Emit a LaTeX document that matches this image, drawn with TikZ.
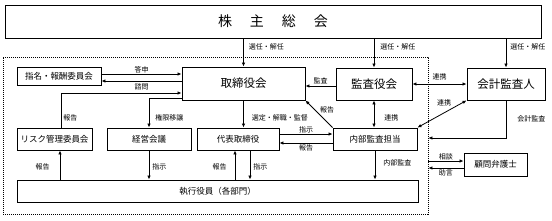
\documentclass[tikz,border=0pt]{standalone}
\usepackage{fontspec}
\setmainfont{Noto Sans CJK JP}
\usetikzlibrary{arrows.meta,positioning,calc}

\begin{document}
\begin{tikzpicture}[
    x=1pt, y=-1pt,
    >={Latex[length=4pt,width=3.5pt]},
    every node/.style={inner sep=0pt},
    bigbox/.style={rectangle, draw, line width=0.9pt, align=center, font=\fontsize{11.5}{13}\selectfont},
    midbox/.style={rectangle, draw, line width=0.9pt, align=center, font=\fontsize{8.5}{10}\selectfont},
    grpbox/.style={rectangle, draw, line width=0.8pt, dash pattern=on 1.2pt off 0.8pt},
    lbl/.style={font=\fontsize{7}{8}\selectfont},
    conn/.style={line width=0.8pt}
]
    \useasboundingbox (0,0) rectangle (552,220);

    \node (grp) [grpbox, minimum width=425pt, minimum height=157pt] at (215.5,135.5) {};
    \node (sh) [bigbox, minimum width=536pt, minimum height=33pt, font=\fontsize{14}{16}\selectfont] at (273,21.5) {株\hspace{18pt}主\hspace{18pt}総\hspace{18pt}会};
    \node (nom) [midbox, minimum width=84pt, minimum height=18pt] at (59,76) {指名・報酬委員会};
    \node (board) [bigbox, minimum width=123pt, minimum height=33pt] at (243.5,83.5) {取締役会};
    \node (audit) [bigbox, minimum width=76pt, minimum height=32pt] at (374,84) {監査役会};
    \node (acct) [bigbox, minimum width=78pt, minimum height=32pt] at (506,84) {会計監査人};
    \node (risk) [midbox, minimum width=75pt, minimum height=22pt] at (54.5,139) {リスク管理委員会};
    \node (mgmt) [midbox, minimum width=84pt, minimum height=22pt] at (149,139) {経営会議};
    \node (ceo) [midbox, minimum width=82pt, minimum height=22pt] at (238,139) {代表取締役};
    \node (internal) [midbox, minimum width=84pt, minimum height=22pt] at (375,139) {内部監査担当};
    \node (exec) [midbox, minimum width=401pt, minimum height=22pt] at (217.5,191) {執行役員（各部門）};
    \node (lawyer) [midbox, minimum width=63pt, minimum height=23pt] at (495.5,164.5) {顧問弁護士};

    \draw[->, conn] (sh.south -| board.north) -- node[lbl, pos=0.3, anchor=west, xshift=5pt] (selboard) {選任・解任} (board.north);
    \draw[->, conn] (sh.south -| audit.north) -- node[lbl, pos=0.3, anchor=west, xshift=6pt] (selaudit) {選任・解任} (audit.north);
    \draw[->, conn] (sh.south -| acct.north) -- node[lbl, pos=0.3, anchor=west, xshift=4pt] (selacct) {選任・解任} (acct.north);
    \draw[->, conn] (nom.east |- 0,74) -- node[lbl, above=0.5pt] (reply) {答申} (board.west |- 0,74);
    \draw[->, conn] (board.west |- 0,81) -- node[lbl, below=2.5pt] (consult) {諮問} (nom.east |- 0,81);
    \draw[->, conn] (risk.north -| 61,0) |- node[lbl, pos=0.14, anchor=west, xshift=2pt] (rep1) {報告} (board.west |- 0,93);
    \draw[->, conn] (board.west |- 0,98) -| node[lbl, pos=0.83, anchor=west, xshift=6pt] (deleg) {権限移譲} (mgmt.north);
    \draw[->, conn] (audit.west |- 0,86) -- node[lbl, above=2pt] (audlbl) {監査} (board.east |- 0,86);
    \draw[<->, conn] (audit.east) -- node[lbl, above=3.5pt] (coop1) {連携} (acct.west);
    \draw[<->, conn] (audit.south) -- node[lbl, pos=0.64, right=10pt] (coop2) {連携} (audit.south |- internal.north);
    \draw[<->, conn] (acct.south west) -- node[lbl, midway, xshift=2pt, yshift=11pt] (coop3) {連携} (internal.north east);
    \draw[->, conn] (internal.north west) -- node[lbl, midway, xshift=8pt, yshift=4pt] (rep2) {報告} (board.south east);
    \draw[->, conn] (board.south) -- node[lbl, pos=0.64, right=8pt] (appoint) {選定・解職・監督} (board.south |- ceo.north);
    \draw[->, conn] (ceo.east |- 0,134) -- node[lbl, above=0.5pt] (inst1) {指示} (internal.west |- 0,134);
    \draw[->, conn] (internal.west |- 0,143) -- node[lbl, below=1.5pt] (rep3) {報告} (ceo.east |- 0,143);
    \draw[->, conn] (internal.south) -- node[lbl, pos=0.43, right=8pt] (intaud) {内部監査} (internal.south |- exec.north);
    \draw[->, conn] (exec.north -| 235,0) -- node[lbl, pos=0.43, left=8pt] (rep4) {報告} (ceo.south -| 235,0);
    \draw[->, conn] (ceo.south -| 250,0) -- node[lbl, pos=0.57, right=3pt] (inst2) {指示} (exec.north -| 250,0);
    \draw[->, conn] (mgmt.south) -- node[lbl, pos=0.57, right=3pt] (inst3) {指示} (mgmt.south |- exec.north);
    \draw[->, conn] (exec.north -| 60,0) -- node[lbl, pos=0.43, left=10pt] (rep5) {報告} (risk.south -| 60,0);
    \draw[->, conn] (acct.south) |- node[lbl, pos=0.24, right=11pt] (acctaud) {会計監査} (grp.east |- 0,138);
    \draw[->, conn] (grp.east |- 0,161) -- node[lbl, above=0.5pt] (talk) {相談} (lawyer.west |- 0,161);
    \draw[->, conn] (lawyer.west |- 0,168) -- node[lbl, below=1.5pt] (advice) {助言} (grp.east |- 0,168);

\end{tikzpicture}
\end{document}
